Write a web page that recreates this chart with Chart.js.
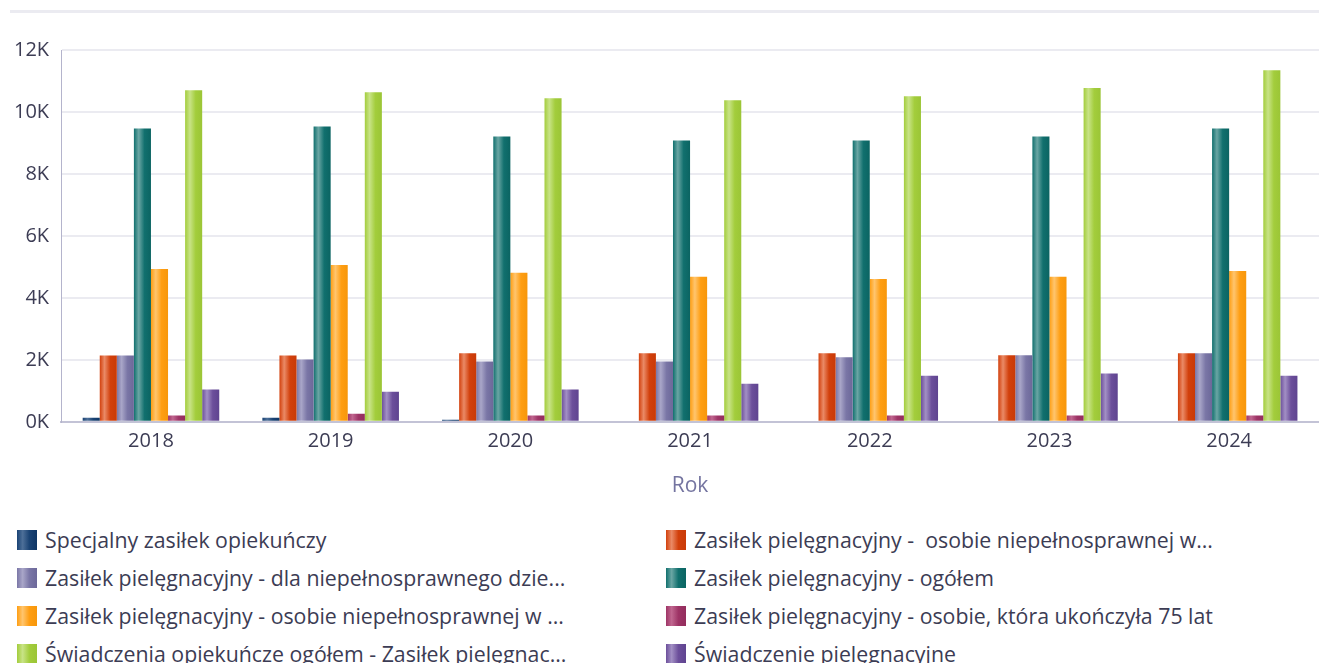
<!DOCTYPE html>
<html lang="pl">
<head>
<meta charset="utf-8">
<title>Świadczenia opiekuńcze</title>
<script src="https://cdn.jsdelivr.net/npm/chart.js@4.4.1/dist/chart.umd.min.js"></script>
<style>
  html, body { margin: 0; padding: 0; background: #ffffff; }
  body { width: 1319px; height: 663px; position: relative; overflow: hidden; font-family: 'Open Sans', sans-serif; }
  .topline { position: absolute; left: 10px; right: 0; top: 10px; height: 3px; background: #ebebf1; }
  .chart-box { position: absolute; left: 0; top: 0; width: 1319px; height: 505px; }
  .legend { position: absolute; left: 17px; top: 527px; width: 1302px;
            display: grid; grid-template-columns: 649px 650px; row-gap: 13px; }
  .legend .item { display: flex; align-items: center; height: 25px; white-space: pre;
                  font-size: 21.3px; color: #3c3c54; }
  .legend .swatch { width: 20px; height: 20px; margin-right: 8px; flex: none; }
</style>
</head>
<body>
<div class="topline"></div>
<div class="chart-box"><canvas id="chartCare"></canvas></div>
<div class="legend" id="legend"></div>

<script>
// ---------- data ----------
const years = ['2018', '2019', '2020', '2021', '2022', '2023', '2024'];

const seriesNames = [
  'Specjalny zasiłek opiekuńczy',
  'Zasiłek pielęgnacyjny -  osobie niepełnosprawnej w...',
  'Zasiłek pielęgnacyjny - dla niepełnosprawnego dzie...',
  'Zasiłek pielęgnacyjny - ogółem',
  'Zasiłek pielęgnacyjny - osobie niepełnosprawnej w ...',
  'Zasiłek pielęgnacyjny - osobie, która ukończyła 75 lat',
  'Świadczenia opiekuńcze ogółem - Zasiłek pielęgnac...',
  'Świadczenie pielęgnacyjne',
];

const specjalnyZasilek   = [130, 130, 70, 0, 0, 0, 0];
const zpNiepelnosprawnej = [2140, 2140, 2210, 2210, 2210, 2150, 2210];
const zpDziecka          = [2140, 2010, 1950, 1950, 2080, 2150, 2210];
const zpOgolem           = [9470, 9530, 9210, 9080, 9080, 9210, 9470];
const zpNiepelnosprawnejW = [4930, 5060, 4810, 4680, 4610, 4680, 4870];
const zp75lat            = [200, 260, 200, 200, 200, 200, 200];
const swiadczeniaOgolem  = [10700, 10640, 10440, 10380, 10510, 10770, 11350];
const swiadczeniePiel    = [1040, 970, 1040, 1230, 1490, 1560, 1490];

const yTicks = [0, 2000, 4000, 6000, 8000, 10000, 12000];

// ---------- colours ----------
// each bar is shaded left-to-right: soft highlight, then the base colour
const SHADES = [
  { hi: '#4d6f98', mid: '#1a4374', lo: '#0e3564' },  // navy
  { hi: '#ea8a66', mid: '#d2400c', lo: '#c93a07' },  // red
  { hi: '#a9a6c8', mid: '#7a76a6', lo: '#6c6899' },  // lavender
  { hi: '#6aa6a4', mid: '#11706e', lo: '#0b6462' },  // teal
  { hi: '#ffc56e', mid: '#ff9e12', lo: '#f7970b' },  // orange
  { hi: '#c0668f', mid: '#9e3466', lo: '#932d5d' },  // maroon
  { hi: '#c8e386', mid: '#a3cd3c', lo: '#9bc536' },  // green
  { hi: '#a28fc4', mid: '#6c4f9b', lo: '#5f4490' },  // purple
];

const seriesValues = [
  specjalnyZasilek, zpNiepelnosprawnej, zpDziecka, zpOgolem,
  zpNiepelnosprawnejW, zp75lat, swiadczeniaOgolem, swiadczeniePiel,
];

const datasets = seriesValues.map((values, i) => ({
  label: seriesNames[i],
  data: values,
  backgroundColor: SHADES[i].mid,
  borderWidth: 0,
  barPercentage: 1,
  categoryPercentage: 0.76,
}));

// paints every bar with a horizontal "cylinder" gradient once its pixel box is known
const barShading = {
  id: 'barShading',
  afterDatasetsUpdate(chart) {
    const g = chart.ctx;
    chart.data.datasets.forEach((ds, i) => {
      const s = SHADES[i];
      chart.getDatasetMeta(i).data.forEach(bar => {
        const left = bar.x - bar.width / 2;
        const right = bar.x + bar.width / 2;
        const grad = g.createLinearGradient(left, 0, right, 0);
        grad.addColorStop(0, s.mid);
        grad.addColorStop(0.28, s.hi);
        grad.addColorStop(0.62, s.mid);
        grad.addColorStop(1, s.lo);
        bar.options = Object.assign({}, bar.options, { backgroundColor: grad });
      });
    });
  }
};

// ---------- legend (two columns) ----------
const legendEl = document.getElementById('legend');
seriesNames.forEach((name, i) => {
  const s = SHADES[i];
  const item = document.createElement('div');
  item.className = 'item';
  const sw = document.createElement('span');
  sw.className = 'swatch';
  sw.style.background = `linear-gradient(90deg, ${s.mid} 0%, ${s.hi} 28%, ${s.mid} 62%, ${s.lo} 100%)`;
  const txt = document.createElement('span');
  txt.textContent = name;
  item.appendChild(sw);
  item.appendChild(txt);
  legendEl.appendChild(item);
});

// ---------- chart ----------
new Chart(document.getElementById('chartCare'), {
  type: 'bar',
  data: { labels: years, datasets },
  plugins: [barShading],
  options: {
    responsive: true,
    maintainAspectRatio: false,
    animation: false,
    layout: { padding: { top: 50, left: 2, right: 0, bottom: 6 } },
    plugins: {
      legend: { display: false },
      tooltip: { enabled: false },
    },
    scales: {
      x: {
        grid: { display: false, drawTicks: false },
        border: { color: '#c3c3d6', width: 2 },
        ticks: { color: '#3c3c54', font: { family: 'Open Sans', size: 20 }, padding: 7 },
        title: {
          display: true, text: 'Rok', color: '#7474a0',
          font: { family: 'Open Sans', size: 21 }, padding: { top: 14, bottom: 0 },
        },
      },
      y: {
        min: 0,
        max: 12000,
        afterBuildTicks: (axis) => { axis.ticks = yTicks.map(v => ({ value: v })); },
        grid: { color: '#ebebf1', lineWidth: 2, drawTicks: false },
        border: { color: '#b4b4cc', width: 1 },
        ticks: {
          color: '#3c3c54', font: { family: 'Open Sans', size: 20 }, padding: 12,
          callback: (v) => (v / 1000) + 'K',
        },
      },
    },
  },
});
</script>
</body>
</html>
